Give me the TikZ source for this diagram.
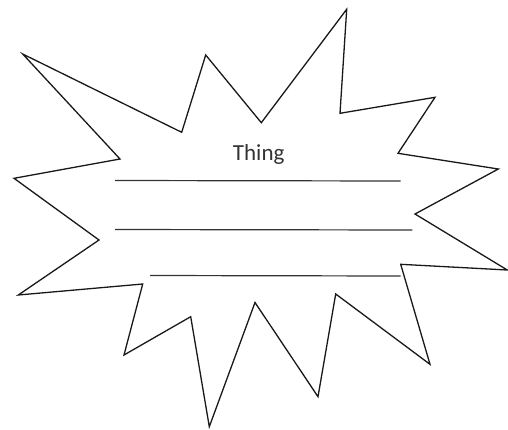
\documentclass[tikz,border=0pt]{standalone}
\usepackage{fontspec}
\setmainfont{Carlito}
\begin{document}
\begin{tikzpicture}[x=1pt,y=-1pt,
  burst/.style={draw=black!90,line width=1.3pt,line join=miter,fill=white},
  rule/.style={draw=black!80,line width=1.2pt},
  label/.style={font=\fontsize{23}{26}\selectfont,text=black!80,inner sep=0pt,anchor=base}]
\useasboundingbox (0,0) rectangle (508,429);
\draw[burst] (22.7,54) -- (181.7,132.3) -- (205.7,55) -- (261.3,122.7) -- (346.7,9.3)
  -- (340,113.3) -- (435,97.3) -- (398,153.3) -- (498.3,169) -- (415,214)
  -- (507.3,270) -- (400.7,264.3) -- (430,364.3) -- (335.7,294) -- (318,396.7)
  -- (255,302.5) -- (209.3,426.7) -- (190.7,316.7) -- (124,355) -- (142.7,284)
  -- (18.3,295) -- (99,240) -- (14,178.3) -- (120,159) -- cycle;
\node[label] (t) at (258.7,160.7) {Thing};
\coordinate (a1) at (115,180.5); \coordinate (a2) at (400.7,181);
\coordinate (b1) at (115,229.5); \coordinate (b2) at (412.3,230);
\coordinate (c1) at (150,275.5); \coordinate (c2) at (400.7,276);
\draw[rule] (a1) -- (a2);
\draw[rule] (b1) -- (b2);
\draw[rule] (c1) -- (c2);
\end{tikzpicture}
\end{document}
